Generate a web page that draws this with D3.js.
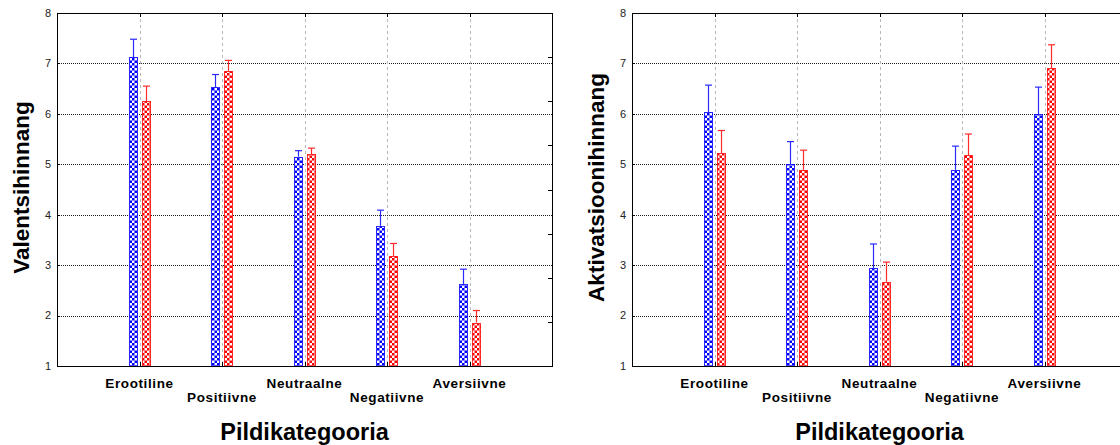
<!DOCTYPE html>
<html lang="et">
  <head>
    <meta charset="UTF-8" />
    <title>Pildikategooria hinnangud</title>
    <script src="https://d3js.org/d3.v7.min.js"></script>
    <style>
      html,
      body {
        margin: 0;
        padding: 0;
        background-color: #fff;
        font-family: Arial, "Liberation Sans", sans-serif;
      }
      .cat-label {
        font-size: 13.5px;
        font-weight: bold;
        letter-spacing: 0.6px;
      }
      .axis-title {
        font-size: 22.5px;
        font-weight: bold;
      }
      .x-title {
        font-size: 23.5px;
      }
      .tick-label {
        font-size: 11px;
        fill: #222;
      }
    </style>
  </head>
  <body>
    <svg id="chart"></svg>
    <script>
      // Data
      const categories = ["Erootiline", "Positiivne", "Neutraalne", "Negatiivne", "Aversiivne"];
      const yTicks = [1, 2, 3, 4, 5, 6, 7, 8];

      // left chart: valence
      const valenceBlue = [7.12, 6.53, 5.15, 3.78, 2.62];
      const valenceBlueErr = [0.36, 0.25, 0.12, 0.31, 0.30];
      const valenceRed = [6.25, 6.85, 5.2, 3.18, 1.86];
      const valenceRedErr = [0.3, 0.21, 0.12, 0.25, 0.24];

      // right chart: arousal
      const arousalBlue = [6.03, 5.0, 2.94, 4.89, 5.99];
      const arousalBlueErr = [0.54, 0.45, 0.48, 0.47, 0.54];
      const arousalRed = [5.22, 4.89, 2.67, 5.18, 6.9];
      const arousalRedErr = [0.45, 0.39, 0.39, 0.42, 0.47];

      const width = 1120;
      const height = 445;
      const margin = { top: 13, left: 57, bottom: 79 };
      const plotW = 495;
      const plotH = height - margin.top - margin.bottom;
      const panelGap = 575;

      const svg = d3.select("#chart").attr("width", width).attr("height", height);

      // checker patterns
      const defs = svg.append("defs");
      function checker(id, color) {
        const c = 2.5;
        const p = defs
          .append("pattern")
          .attr("id", id)
          .attr("patternUnits", "userSpaceOnUse")
          .attr("width", c * 2)
          .attr("height", c * 2);
        p.append("rect").attr("width", c * 2).attr("height", c * 2).attr("fill", "#fff");
        p.append("rect").attr("width", c).attr("height", c).attr("fill", color);
        p.append("rect").attr("x", c).attr("y", c).attr("width", c).attr("height", c).attr("fill", color);
      }
      checker("chkBlue", "#0000ff");
      checker("chkRed", "#ff0000");

      const px = (v) => Math.round(v) + 0.5;

      function drawPanel(offsetX, blue, blueErr, red, redErr, yTitle) {
        const g = svg.append("g").attr("transform", `translate(${offsetX + margin.left},${margin.top})`);

        const x = d3.scaleLinear().domain([0, categories.length + 1]).range([0, plotW]);
        const y = d3.scaleLinear().domain([1, 8]).range([plotH, 0]);
        // unlabeled right axis (0..8) with its own ticks
        const yRight = d3.scaleLinear().domain([0, 8]).range([plotH, 0]);

        const step = x(1) - x(0);
        const bw = Math.round(step * 0.11);
        const gap = Math.round(step * 0.02);

        // horizontal grid
        g.selectAll(".hgrid")
          .data(yTicks.slice(1, -1))
          .enter()
          .append("line")
          .attr("x1", 0)
          .attr("x2", plotW)
          .attr("y1", (d) => px(y(d)))
          .attr("y2", (d) => px(y(d)))
          .attr("stroke", "#222")
          .attr("stroke-width", 1)
          .attr("stroke-dasharray", "1,1");

        // vertical grid
        g.selectAll(".vgrid")
          .data(categories)
          .enter()
          .append("line")
          .attr("x1", (d, i) => px(x(i + 1)))
          .attr("x2", (d, i) => px(x(i + 1)))
          .attr("y1", 0)
          .attr("y2", plotH)
          .attr("stroke", "#b8b8b8")
          .attr("stroke-width", 1)
          .attr("stroke-dasharray", "3,3");

        // bars + error bars
        const series = [
          { vals: blue, err: blueErr, fill: "url(#chkBlue)", edge: "#0000ff", line: "#2a2aff", dx: -gap - bw },
          { vals: red, err: redErr, fill: "url(#chkRed)", edge: "#ff0000", line: "#ff2a2a", dx: gap },
        ];

        series.forEach((s) => {
          const bx = (i) => Math.round(x(i + 1) + s.dx);
          g.selectAll(null)
            .data(s.vals)
            .enter()
            .append("rect")
            .attr("x", (d, i) => bx(i) + 0.5)
            .attr("y", (d) => px(y(d)))
            .attr("width", bw - 1)
            .attr("height", (d) => y(1) - px(y(d)))
            .attr("fill", s.fill)
            .attr("stroke", s.edge)
            .attr("stroke-opacity", 0.8)
            .attr("stroke-width", 1);

          const eb = g.selectAll(null).data(s.vals).enter().append("g");
          eb.append("line")
            .attr("x1", (d, i) => bx(i) + bw / 2)
            .attr("x2", (d, i) => bx(i) + bw / 2)
            .attr("y1", (d) => y(d))
            .attr("y2", (d, i) => y(d + s.err[i]))
            .attr("stroke", s.line)
            .attr("stroke-width", 1.2);
          eb.append("line")
            .attr("x1", (d, i) => bx(i) + 1)
            .attr("x2", (d, i) => bx(i) + bw - 1)
            .attr("y1", (d, i) => y(d + s.err[i]))
            .attr("y2", (d, i) => y(d + s.err[i]))
            .attr("stroke", s.line)
            .attr("stroke-width", 1.2);
        });

        // frame
        g.append("rect")
          .attr("x", 0.5)
          .attr("y", 0.5)
          .attr("width", plotW)
          .attr("height", plotH)
          .attr("fill", "none")
          .attr("stroke", "#000")
          .attr("stroke-width", 1);

        // left ticks (inward) and labels
        g.selectAll(".ltick")
          .data(yTicks)
          .enter()
          .append("line")
          .attr("x1", 0)
          .attr("x2", 3)
          .attr("y1", (d) => px(y(d)))
          .attr("y2", (d) => px(y(d)))
          .attr("stroke", "#000");
        g.selectAll(".tick-label")
          .data(yTicks)
          .enter()
          .append("text")
          .attr("class", "tick-label")
          .attr("x", -6)
          .attr("y", (d) => y(d))
          .attr("dy", "0.35em")
          .attr("text-anchor", "end")
          .text((d) => d);

        // right ticks
        g.selectAll(".rtick")
          .data(yRight.ticks(8).slice(1, -1))
          .enter()
          .append("line")
          .attr("x1", plotW)
          .attr("x2", plotW - 4)
          .attr("y1", (d) => px(yRight(d)))
          .attr("y2", (d) => px(yRight(d)))
          .attr("stroke", "#000");

        // top & bottom category ticks
        categories.forEach((c, i) => {
          g.append("line").attr("x1", px(x(i + 1))).attr("x2", px(x(i + 1))).attr("y1", 0).attr("y2", 4).attr("stroke", "#000");
          g.append("line").attr("x1", px(x(i + 1))).attr("x2", px(x(i + 1))).attr("y1", plotH).attr("y2", plotH - 4).attr("stroke", "#000");
        });

        // category labels, staggered
        g.selectAll(".cat-label")
          .data(categories)
          .enter()
          .append("text")
          .attr("class", "cat-label")
          .attr("x", (d, i) => x(i + 1))
          .attr("y", (d, i) => plotH + (i % 2 === 0 ? 22 : 36))
          .attr("text-anchor", "middle")
          .text((d) => d);

        // x title
        g.append("text")
          .attr("class", "axis-title x-title")
          .attr("x", plotW / 2)
          .attr("y", plotH + 74)
          .attr("text-anchor", "middle")
          .text("Pildikategooria");

        // y title
        g.append("text")
          .attr("class", "axis-title")
          .attr("transform", `translate(${-28.5},${plotH / 2 - 2}) rotate(-90)`)
          .attr("text-anchor", "middle")
          .text(yTitle);
      }

      drawPanel(0, valenceBlue, valenceBlueErr, valenceRed, valenceRedErr, "Valentsihinnang");
      drawPanel(panelGap, arousalBlue, arousalBlueErr, arousalRed, arousalRedErr, "Aktivatsioonihinnang");
    </script>
  </body>
</html>
